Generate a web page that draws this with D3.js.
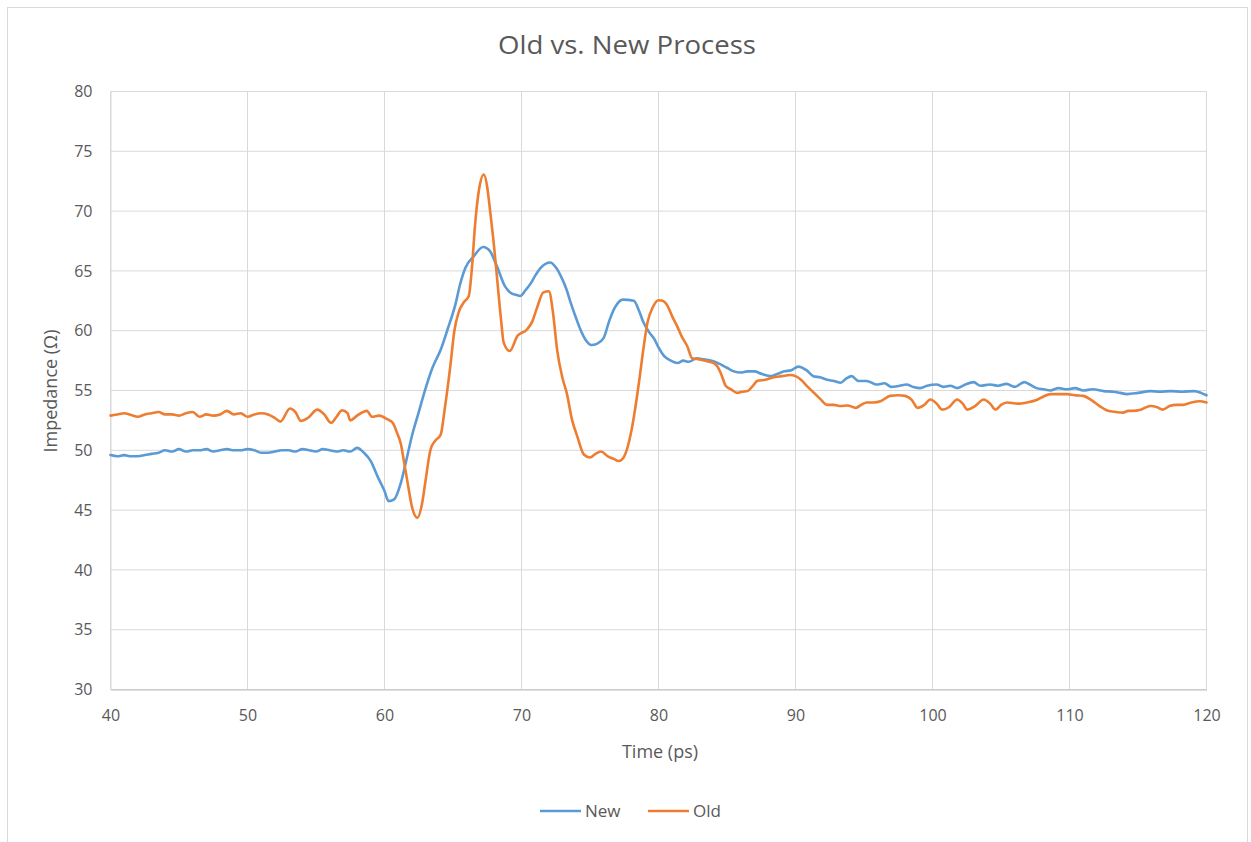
<!DOCTYPE html>
<html><head><meta charset="utf-8">
<script src="https://cdn.jsdelivr.net/npm/d3@7"></script>
<style>
body{margin:0;background:#fff;}
text{font-family:"Open Sans","Noto Sans",sans-serif;fill:#595959;}
</style></head>
<body><svg id="c" width="1251" height="842"></svg>
<script>
const title = "Old vs. New Process";
const xLabel = "Time (ps)";
const yLabel = "Impedance (Ω)";
const seriesNames = ["New", "Old"];
const seriesColors = ["#5B9BD5", "#ED7D31"];
const xTicks = [40,50,60,70,80,90,100,110,120];
const yTicks = [30,35,40,45,50,55,60,65,70,75,80];

const newT = [40,40.5,41,41.5,42,42.5,43,43.5,44,44.5,45,45.5,46,46.5,47,47.5,48,48.5,49,49.5,50,50.5,51,51.5,52,52.5,53,53.5,54,54.5,55,55.5,56,56.5,57,57.5,58,58.5,59,59.5,60,60.3,60.7,61.2,61.6,62,62.5,62.9,63.5,64.1,64.6,65.2,65.5,65.9,66.5,67.2,67.7,68.2,68.8,69.3,69.6,69.9,70.3,70.7,71.0,71.4,72.1,72.5,72.9,73.3,73.6,74.0,74.3,74.7,75.1,75.5,76.0,76.4,76.8,77.4,78.2,78.6,78.9,79.3,79.7,80.0,80.4,80.9,81.4,81.8,82.2,82.8,83.3,84.0,84.5,85.0,85.5,86.0,86.5,87.0,87.5,88.2,88.7,89.2,89.7,90.2,90.8,91.3,91.8,92.3,92.8,93.3,93.7,94.1,94.6,95.2,95.9,96.5,97.0,97.6,98.1,98.6,99.1,99.6,100.3,100.8,101.3,101.8,102.4,103.0,103.5,104.2,104.8,105.4,106.0,106.7,107.1,107.6,108.1,108.6,109.2,109.8,110.4,111.0,111.7,112.5,113.2,113.7,114.2,115.0,115.9,116.6,117.4,118.2,119.1,119.6,120];
const newV = [49.6,49.5,49.6,49.5,49.5,49.6,49.7,49.8,50.0,49.9,50.1,49.9,50.0,50.0,50.1,49.9,50.0,50.1,50.0,50.0,50.1,50.0,49.8,49.8,49.9,50.0,50.0,49.9,50.1,50.0,49.9,50.1,50.0,49.9,50.0,49.9,50.2,49.8,49.1,47.8,46.6,45.75,45.9,47.3,49.2,51.2,53.2,54.8,56.9,58.4,60.1,62.3,63.8,65.25,66.2,67.0,66.65,65.4,63.7,63.1,63.0,62.9,63.4,64.0,64.6,65.25,65.7,65.3,64.5,63.4,62.3,61.0,60.1,59.2,58.8,58.9,59.4,60.8,61.9,62.6,62.5,61.6,60.7,59.9,59.3,58.6,57.9,57.5,57.3,57.5,57.4,57.7,57.6,57.45,57.2,56.9,56.6,56.5,56.6,56.6,56.4,56.2,56.4,56.6,56.7,57.0,56.7,56.2,56.1,55.9,55.8,55.65,56.0,56.2,55.8,55.8,55.5,55.6,55.3,55.4,55.5,55.3,55.2,55.4,55.5,55.3,55.4,55.2,55.5,55.7,55.4,55.5,55.4,55.55,55.3,55.7,55.5,55.2,55.1,55.0,55.2,55.1,55.2,55.0,55.1,54.95,54.9,54.8,54.7,54.8,54.95,54.9,54.95,54.9,54.95,54.8,54.6];

const oldT = [40,40.5,41,41.5,42,42.5,43,43.5,44,44.5,45,45.5,46,46.5,47,47.5,48,48.5,49,49.5,50,50.5,51,51.5,52,52.4,53.1,53.5,53.9,54.4,55.1,55.6,56.1,56.5,56.9,57.3,57.5,58.0,58.7,59.1,59.6,60.2,60.6,60.9,61.2,61.4,61.7,62.0,62.4,62.75,63.0,63.36,63.7,64.1,64.4,64.8,65.1,65.4,65.8,66.15,66.4,66.6,66.9,67.25,67.5,67.7,68.0,68.2,68.5,68.7,69.14,69.7,70.4,70.8,71.1,71.6,72.0,72.3,72.6,73.0,73.3,73.7,74.06,74.55,75.0,75.4,75.8,76.3,76.7,77.1,77.5,78.0,78.3,78.6,78.9,79.2,79.6,80.0,80.3,80.6,81.0,81.35,81.7,82.1,82.45,83.0,83.55,84.0,84.3,84.6,84.9,85.3,85.75,86.1,86.5,86.9,87.2,87.8,88.4,89.0,89.6,90.0,90.4,90.9,91.35,91.8,92.3,92.8,93.3,93.8,94.4,94.8,95.2,95.7,96.2,96.9,97.5,98.0,98.5,98.9,99.4,99.85,100.3,100.7,101.2,101.8,102.2,102.55,103.1,103.75,104.2,104.6,105.0,105.45,106.2,106.9,107.6,108.1,108.6,109.2,109.8,110.4,111.0,111.6,112.2,112.8,113.4,113.9,114.3,114.6,115.2,115.9,116.4,116.8,117.3,117.8,118.3,118.9,119.5,120];
const oldV = [52.9,53.0,53.1,52.95,52.8,53.0,53.1,53.2,53.0,53.0,52.9,53.1,53.2,52.8,53.0,52.9,53.0,53.3,53.0,53.1,52.8,53.0,53.1,53.0,52.7,52.4,53.5,53.2,52.45,52.7,53.4,53.0,52.3,52.8,53.35,53.1,52.5,52.9,53.3,52.8,52.9,52.6,52.3,51.5,50.5,49.2,47.2,45.3,44.35,45.6,47.5,50.07,50.8,51.3,53.5,57.0,60.0,61.5,62.4,62.9,65.5,68.7,71.8,73.06,72.0,70.1,67.0,64.6,61.0,59.0,58.3,59.55,60.1,60.8,61.8,63.2,63.3,61.5,58.4,56.0,54.8,52.5,51.2,49.65,49.4,49.7,49.9,49.5,49.3,49.1,49.5,51.5,53.5,55.9,58.5,60.7,62.0,62.55,62.5,62.2,61.2,60.4,59.5,58.7,57.7,57.6,57.45,57.3,57.0,56.3,55.4,55.1,54.8,54.9,54.95,55.4,55.8,55.9,56.1,56.2,56.3,56.2,55.9,55.3,54.8,54.3,53.8,53.8,53.7,53.75,53.55,53.8,54.0,54.0,54.1,54.55,54.6,54.55,54.2,53.55,53.8,54.25,53.9,53.4,53.6,54.25,53.9,53.4,53.7,54.25,53.9,53.4,53.8,54.0,53.9,54.0,54.2,54.5,54.7,54.7,54.7,54.6,54.55,54.2,53.7,53.3,53.2,53.15,53.3,53.3,53.4,53.7,53.6,53.4,53.7,53.8,53.8,54.0,54.1,54.0];

const svg = d3.select("#c");
const L = 110.5, R = 1206.5, T = 91.5, B = 689.5;

svg.append("rect").attr("x",7.5).attr("y",7.5).attr("width",1240).attr("height",840)
  .attr("fill","#fff").attr("stroke","#D9D9D9").attr("stroke-width",1);

const x = d3.scaleLinear().domain([40,120]).range([L,R]);
const y = d3.scaleLinear().domain([30,80]).range([B,T]);

// grid
svg.append("g").selectAll("line").data(yTicks).join("line")
  .attr("x1",L).attr("x2",R).attr("y1",d=>y(d)).attr("y2",d=>y(d))
  .attr("stroke","#D9D9D9").attr("stroke-width",1);
svg.append("g").selectAll("line").data(xTicks).join("line")
  .attr("y1",T).attr("y2",B).attr("x1",d=>x(d)).attr("x2",d=>x(d))
  .attr("stroke","#D9D9D9").attr("stroke-width",1);

// axes via d3 axis
const gx = svg.append("g").attr("transform",`translate(0,${B})`)
  .call(d3.axisBottom(x).tickValues(xTicks).tickSize(0).tickPadding(20).tickFormat(d3.format("d")));
gx.select(".domain").attr("stroke","#BFBFBF");
gx.selectAll("text").attr("font-size",16).attr("fill","#595959").style("font-family",'"Open Sans",sans-serif');
const gy = svg.append("g").attr("transform",`translate(${L},0)`)
  .call(d3.axisLeft(y).tickValues(yTicks).tickSize(0).tickPadding(18).tickFormat(d3.format("d")));
gy.select(".domain").attr("stroke","#D9D9D9");
gy.selectAll("text").attr("font-size",16).attr("fill","#595959").style("font-family",'"Open Sans",sans-serif');

// lines
const line = d3.line().x(d=>x(d[0])).y(d=>y(d[1])).curve(d3.curveMonotoneX);
const series = [d3.zip(newT,newV), d3.zip(oldT,oldV)];
series.forEach((s,i)=>{
  svg.append("path").datum(s).attr("d",line).attr("fill","none")
    .attr("stroke",seriesColors[i]).attr("stroke-width",2.6)
    .attr("stroke-linejoin","round").attr("stroke-linecap","round");
});

// title & labels
svg.append("text").attr("x",627).attr("y",54).attr("text-anchor","middle")
  .attr("font-size",26).attr("textLength",258).attr("lengthAdjust","spacingAndGlyphs").text(title);
svg.append("text").attr("x",660).attr("y",758).attr("text-anchor","middle")
  .attr("font-size",18).text(xLabel);
svg.append("text").attr("transform","translate(57,391) rotate(-90)").attr("text-anchor","middle")
  .attr("font-size",18).text(yLabel);

// legend
const lg = svg.append("g");
const legX = [540, 648];
seriesNames.forEach((n,i)=>{
  lg.append("line").attr("x1",legX[i]).attr("x2",legX[i]+41).attr("y1",811).attr("y2",811)
    .attr("stroke",seriesColors[i]).attr("stroke-width",2.6);
  lg.append("text").attr("x",legX[i]+45).attr("y",817).attr("font-size",17).text(n);
});
</script></body></html>
